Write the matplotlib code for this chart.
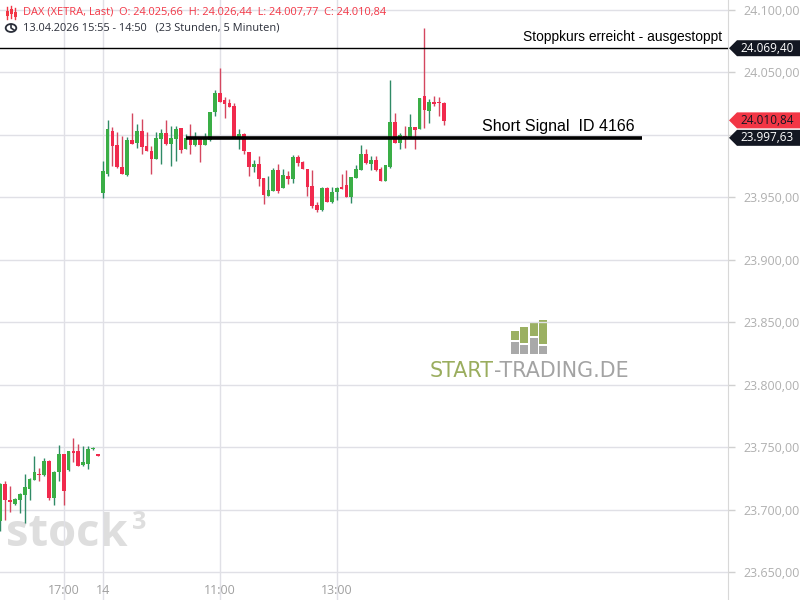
import numpy as np
import matplotlib
matplotlib.use("Agg")
import matplotlib.pyplot as plt
from matplotlib import transforms
from matplotlib.patches import Polygon, Rectangle, Circle
from matplotlib.lines import Line2D

# -------------------------------------------------
# candle data, 5 minute bars (previous day, then 14.04.)
# -------------------------------------------------

prev_open = [23690.6, 23720.8, 23708.0, 23704.8, 23708.0, 23712.0, 23716.8, 23724.0, 23728.8, 23727.4,
             23739.2, 23709.4, 23730.2, 23744.2, 23731.4, 23746.6, 23746.6, 23735.4, 23736.8, 23748.2, 23743.6]
prev_high = [23721.0, 23722.6, 23718.6, 23709.5, 23713.5, 23728.6, 23725.0, 23742.6, 23733.4, 23741.4,
             23739.5, 23730.5, 23752.0, 23744.5, 23747.0, 23757.4, 23752.8, 23750.6, 23750.6, 23750.0, 23743.6]
prev_low = [23682.6, 23692.0, 23697.8, 23704.0, 23697.4, 23689.4, 23708.0, 23723.5, 23723.2, 23727.0,
            23708.0, 23704.0, 23722.6, 23704.0, 23731.0, 23737.8, 23734.5, 23735.0, 23732.8, 23748.0, 23743.2]
prev_close = [23720.8, 23707.4, 23705.8, 23708.8, 23712.8, 23717.8, 23724.6, 23730.2, 23727.4, 23738.6,
              23709.4, 23730.2, 23744.8, 23714.6, 23746.6, 23745.0, 23734.6, 23737.8, 23748.8, 23749.6, 23743.2]

day_open = [23953.6, 23968.8, 24003.2, 23992.0, 23974.4, 23968.0, 23996.0, 23993.9, 24003.2, 23991.2,
            23987.0, 23981.0, 23997.0, 24001.6, 23993.0, 23997.0, 24005.6, 23988.6, 23997.3, 23992.3,
            23996.8, 23992.3, 23996.0, 24018.4, 24033.6, 24028.0, 24025.8, 24023.2, 23998.2, 24001.0,
            23986.4, 23974.4, 23976.8, 23965.8, 23951.2, 23955.4, 23972.0, 23957.3, 23967.2, 23965.0,
            23982.6, 23978.4, 23972.8, 23959.2, 23944.0, 23940.0, 23957.8, 23946.6, 23954.6, 23958.6,
            23960.2, 23950.2, 23965.8, 23972.0, 23984.5, 23976.8, 23980.0, 23972.8, 23963.4, 23974.6,
            24010.4, 23993.8, 23999.4, 23998.6, 24006.4, 24004.6, 24031.2, 24019.4, 24026.6, 24025.8,
            24025.66]
day_high = [23979.4, 24012.0, 24006.7, 24002.4, 23999.2, 23998.4, 24017.9, 24008.8, 24012.8, 24002.4,
            23991.2, 24002.7, 24004.8, 24012.0, 24007.2, 24007.2, 24005.6, 24000.8, 24008.8, 24002.4,
            23996.8, 24001.6, 24018.2, 24036.0, 24053.6, 24030.4, 24028.8, 24025.4, 24004.8, 24001.6,
            23986.4, 23980.2, 23983.2, 23965.8, 23966.7, 23973.8, 23976.8, 23972.8, 23971.2, 23984.0,
            23984.0, 23979.2, 23972.8, 23972.0, 23946.6, 23958.0, 23958.6, 23958.6, 23958.6, 23969.0,
            23972.0, 23966.6, 23976.2, 23992.0, 23988.5, 23983.4, 23983.2, 23974.4, 23976.0, 24044.0,
            24017.6, 24001.6, 24007.2, 24016.8, 24006.4, 24029.6, 24085.6, 24028.8, 24031.2, 24030.4,
            24026.44]
day_low = [23949.6, 23966.7, 23974.7, 23973.5, 23969.0, 23966.7, 23993.0, 23989.9, 23985.0, 23986.7,
           23969.0, 23981.0, 23977.0, 23991.8, 23974.7, 23979.4, 23985.3, 23988.6, 23984.5, 23991.5,
           23978.6, 23992.3, 23995.2, 24015.4, 24026.6, 24013.8, 24022.6, 23998.0, 23989.0, 23984.8,
           23966.7, 23970.6, 23959.4, 23944.8, 23951.2, 23955.0, 23953.8, 23957.3, 23961.0, 23961.4,
           23975.2, 23972.6, 23951.4, 23941.8, 23938.6, 23939.2, 23946.6, 23945.4, 23948.0, 23956.8,
           23950.6, 23945.4, 23965.8, 23972.0, 23976.8, 23972.0, 23971.2, 23963.4, 23963.4, 23973.4,
           23993.8, 23989.0, 23989.8, 23998.6, 23988.5, 24004.6, 24005.8, 24009.8, 24023.4, 24015.4,
           24007.77]
day_close = [23971.2, 24004.8, 23991.5, 23973.9, 23969.0, 23996.0, 23993.0, 24003.2, 23990.7, 23986.7,
             23981.0, 23997.6, 24001.6, 23993.0, 23997.6, 24004.8, 23987.5, 23997.3, 23992.3, 23996.8,
             23992.3, 23996.8, 24018.2, 24033.6, 24026.6, 24024.8, 24022.6, 23998.2, 24001.0, 23986.7,
             23974.4, 23976.8, 23964.8, 23952.0, 23956.0, 23972.0, 23955.4, 23968.0, 23965.0, 23982.6,
             23977.6, 23972.6, 23958.6, 23943.4, 23940.0, 23957.8, 23946.6, 23954.6, 23957.8, 23956.8,
             23950.6, 23966.6, 23973.0, 23984.8, 23977.4, 23980.0, 23972.0, 23963.4, 23976.0, 24010.4,
             23993.8, 24000.0, 23997.8, 24006.4, 24004.0, 24029.6, 24020.0, 24026.4, 24025.0, 24025.4,
             24010.84]

time_tick_pos = [-8, 0, 24, 48]
time_tick_labels = ["17:00", "14", "11:00", "13:00"]
price_ticks = [23650, 23700, 23750, 23800, 23850, 23900, 23950, 24000, 24050, 24100]

stop_price = 24069.40
signal_price = 23997.63
signal_from, signal_to = 17, 110.6
last_price = 24010.84

header_1 = "DAX (XETRA, Last)  O: 24.025,66  H: 24.026,44  L: 24.007,77  C: 24.010,84"
header_2 = "13.04.2026 15:55 - 14:50   (23 Stunden, 5 Minuten)"

# -------------------------------------------------
# styles
# -------------------------------------------------
GREEN, GREEN_WICK = "#3aae46", "#2f8a66"
RED, RED_WICK = "#f12a4d", "#d4475f"
GRID = "#e0e0e6"
LABEL = "#b0b0b0"
W, H = 800, 600


def de(v):
    s = f"{v:,.2f}"
    return s.replace(",", "X").replace(".", ",").replace("X", ".")


def px(x, y):
    return (x / W, 1 - y / H)


fig = plt.figure(figsize=(8, 6), dpi=100, facecolor="white")
renderer = fig.canvas.get_renderer()


def fit(t, width):
    # scale the font so the text spans the given pixel width
    w = t.get_window_extent(renderer).width
    t.set_fontsize(t.get_fontsize() * width / w)
    return t


opens = np.array(prev_open + day_open)
highs = np.array(prev_high + day_high)
lows = np.array(prev_low + day_low)
closes = np.array(prev_close + day_close)
xs = np.arange(len(opens)) - len(prev_open)

ax = fig.add_axes([0, 0, 728 / W, 1])
ax.patch.set_visible(False)
ax.set_xlim(-102.7 / 4.875, 625.3 / 4.875)
ax.set_ylim(23627.6, 24108.0)

# grid
for p in price_ticks:
    ax.axhline(p, color=GRID, lw=1, zorder=0)
for t in time_tick_pos:
    ax.axvline(t, color=GRID, lw=1, zorder=0)

# watermarks (behind the axes)
wm = fig.text(*px(6, 546), "stock", fontsize=36, family="Open Sans", fontweight="bold",
              color="#dedede", va="baseline", zorder=-1)
fit(wm, 122)
fig.text(*px(132, 529), "3", fontsize=18, family="Open Sans", fontweight="bold",
         color="#dedede", va="baseline", zorder=-1)
logo_x = [511, 520, 530, 539]
logo_top = [331, 327, 322, 320]
logo_mid = [340, 343, 336, 344]
for lx, lt, lm in zip(logo_x, logo_top, logo_mid):
    fig.add_artist(Rectangle(px(lx, lm), 7.5 / W, (lm - lt) / H, color="#9bb062", lw=0, zorder=-1))
    fig.add_artist(Rectangle(px(lx, 354), 7.5 / W, (354 - lm - 1.5) / H, color="#a9a9a9", lw=0, zorder=-1))
full = fig.text(*px(430, 371), "START-TRADING.DE", fontsize=14, family="DejaVu Sans",
                va="center", alpha=0)
fit(full, 197)
fs = full.get_fontsize()
st = fig.text(*px(430, 371), "START", fontsize=fs, family="DejaVu Sans",
              color="#9aad5e", va="center", zorder=-1)
x_end = st.get_window_extent(renderer).x1
fig.text(x_end / W, 1 - 371 / H, "-TRADING.DE", fontsize=fs, family="DejaVu Sans",
         color="#a3a3a3", va="center", zorder=-1)

# candles
up = closes >= opens
body_lo = np.minimum(opens, closes)
body_h = np.maximum(np.abs(closes - opens), 0.9)
ax.vlines(xs[up], lows[up], highs[up], color=GREEN_WICK, lw=1, zorder=2)
ax.vlines(xs[~up], lows[~up], highs[~up], color=RED_WICK, lw=1, zorder=2)
ax.bar(xs[up], body_h[up], bottom=body_lo[up], width=0.75, color=GREEN, lw=0, zorder=3)
ax.bar(xs[~up], body_h[~up], bottom=body_lo[~up], width=0.75, color=RED, lw=0, zorder=3)

# stop and signal lines
ax.axhline(stop_price, color="black", lw=1, zorder=4)
t1 = ax.text(127.0, stop_price + 3.5, "Stoppkurs erreicht - ausgestoppt", ha="right",
             va="bottom", fontsize=10.5, family="Liberation Sans", color="black", zorder=5)
fit(t1, 201)
ax.hlines(signal_price, signal_from, signal_to, color="black", lw=2.6, zorder=4)
t2 = ax.text(109.2, signal_price + 3.0, "Short Signal  ID 4166", ha="right", va="bottom",
             fontsize=11, family="Liberation Sans", color="black", zorder=5)
fit(t2, 152)

# price boxes on the right axis (the last price box is kept clear of the signal box)
box_h = 12.8
last_pos = max(last_price, signal_price + box_h + 1.2)
boxes = [(stop_price, stop_price, "#131722", "white"),
         (last_price, last_pos, "#f23645", "#131722"),
         (signal_price, signal_price, "#131722", "white")]

# axes styling; tick labels hidden under a price box are left out
for s in ["top", "left", "bottom"]:
    ax.spines[s].set_visible(False)
ax.spines["right"].set_color("#d8d8d8")
ax.yaxis.tick_right()
ax.set_yticks(price_ticks)
ax.set_yticklabels(["" if any(abs(p - b[1]) < box_h for b in boxes) else de(p)
                    for p in price_ticks])
ax.tick_params(axis="y", length=5, width=1, color="#d0d0d0", pad=6, labelsize=9,
               labelcolor=LABEL)
for lab in ax.get_yticklabels():
    lab.set_family("Open Sans")
ax.set_xticks([])
xt = transforms.blended_transform_factory(ax.transData, ax.transAxes)
for t, lab in zip(time_tick_pos, time_tick_labels):
    ax.text(t, 10 / H, lab, transform=xt, ha="center", va="center", fontsize=9,
            family="Open Sans", color="#a0a0a0", zorder=1)

bt = transforms.blended_transform_factory(fig.transFigure, ax.transData)
for price, pos, face, txt in boxes:
    pts = [(729 / W, pos), (737 / W, pos + box_h / 2), (1.0, pos + box_h / 2),
           (1.0, pos - box_h / 2), (737 / W, pos - box_h / 2)]
    fig.add_artist(Polygon(pts, closed=True, transform=bt, facecolor=face, lw=0, zorder=6))
    fig.text(740 / W, pos, de(price), transform=bt, ha="left", va="center", fontsize=8.5,
             family="Open Sans", color=txt, zorder=7)

# header
h1 = fig.text(*px(23, 12), header_1, fontsize=9, family="Open Sans", color="#f23645", va="center")
fit(h1, 366)
h2 = fig.text(*px(23, 28), header_2, fontsize=9, family="Open Sans", color="#2a2e39", va="center")
fit(h2, 256)
for cx, y0, y1, b0, b1 in [(7, 7, 19, 11, 16), (11, 6, 18, 9, 14), (15, 8, 19, 12, 17)]:
    fig.add_artist(Line2D([cx / W, cx / W], [1 - y0 / H, 1 - y1 / H], color="#f23645", lw=1))
    fig.add_artist(Rectangle(px(cx - 1.5, b1), 3 / W, (b1 - b0) / H, color="#f23645", lw=0))
fig.add_artist(Circle(px(11, 28), 5.3 / W, transform=fig.transFigure, fill=False,
                      ec="#2a2e39", lw=1.3))
fig.add_artist(Line2D([11 / W, 11 / W, 14 / W], [1 - 24.5 / H, 1 - 28 / H, 1 - 30 / H],
                      color="#2a2e39", lw=1.2))

fig.savefig("out.png", dpi=100, facecolor="white")
